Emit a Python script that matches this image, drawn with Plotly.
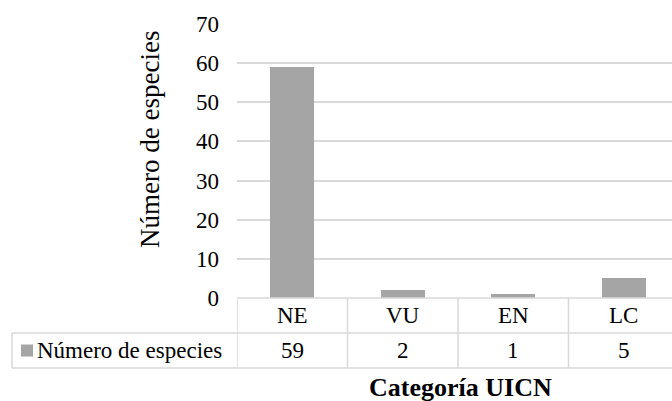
import plotly.graph_objects as go

# Data
categories = ["NE", "VU", "EN", "LC"]
species_counts = [59, 2, 1, 5]
series_name = "Número de especies"
x_title = "Categoría UICN"
y_title = "Número de especies"

FONT = "Times New Roman, Liberation Serif, Tinos, DejaVu Serif, serif"
BAR_COLOR = "#a5a5a5"
GRID_COLOR = "#d9d9d9"

W, H = 672, 401
M_L, M_R, M_T, M_B = 237, 0, 24, 103
plot_h = H - M_T - M_B
plot_w = W - M_L - M_R

# data-table geometry (px below the x axis, converted to paper units)
row_h = 35
row1_mid = -(row_h / 2) / plot_h
row_split = -row_h / plot_h
row2_mid = -(row_h * 1.5) / plot_h
table_bottom = -(row_h * 2) / plot_h
legend_left = (12 - M_L) / plot_w

fig = go.Figure()
fig.add_trace(go.Bar(
    x=list(range(len(categories))),
    y=species_counts,
    name=series_name,
    marker=dict(color=BAR_COLOR, line=dict(width=0)),
    width=0.4,
    showlegend=False,
))

shapes = []
# horizontal table rules
shapes.append(dict(type="line", xref="x", yref="paper", x0=-0.5, x1=len(categories) - 0.5,
                   y0=0, y1=0, line=dict(color=GRID_COLOR, width=1.5)))
for yy in (row_split, table_bottom):
    shapes.append(dict(type="line", xref="paper", yref="paper", x0=legend_left, x1=1,
                       y0=yy, y1=yy, line=dict(color=GRID_COLOR, width=1.5)))
# vertical cell borders at category boundaries
for i in range(len(categories) + 1):
    shapes.append(dict(type="line", xref="x", yref="paper", x0=i - 0.5, x1=i - 0.5,
                       y0=0, y1=table_bottom, line=dict(color=GRID_COLOR, width=1.5)))
# legend cell left border
shapes.append(dict(type="line", xref="paper", yref="paper", x0=legend_left, x1=legend_left,
                   y0=row_split, y1=table_bottom, line=dict(color=GRID_COLOR, width=1.5)))
# legend key
key_x0 = (21 - M_L) / plot_w
key_x1 = (33 - M_L) / plot_w
key_y0 = row2_mid - 6 / plot_h
key_y1 = row2_mid + 6 / plot_h
shapes.append(dict(type="rect", xref="paper", yref="paper", x0=key_x0, x1=key_x1,
                   y0=key_y0, y1=key_y1, fillcolor=BAR_COLOR, line=dict(width=0)))

cell_font = dict(family=FONT, size=23, color="#000")
annotations = []
for i, (cat, val) in enumerate(zip(categories, species_counts)):
    annotations.append(dict(x=i, y=row1_mid, xref="x", yref="paper", text=cat,
                            showarrow=False, font=cell_font,
                            xanchor="center", yanchor="middle"))
    annotations.append(dict(x=i, y=row2_mid, xref="x", yref="paper", text=str(val),
                            showarrow=False, font=cell_font,
                            xanchor="center", yanchor="middle"))
annotations.append(dict(x=(35 - M_L) / plot_w, y=row2_mid, xref="paper", yref="paper",
                        text=series_name, showarrow=False, font=cell_font,
                        xanchor="left", yanchor="middle"))
annotations.append(dict(x=(460 - M_L) / plot_w, y=-(387 - (H - M_B)) / plot_h,
                        xref="paper", yref="paper", text="<b>" + x_title + "</b>",
                        showarrow=False, font=dict(family=FONT, size=26, color="#000"),
                        xanchor="center", yanchor="middle"))
annotations.append(dict(x=(150 - M_L) / plot_w, y=((H - M_B) - 140) / plot_h,
                        xref="paper", yref="paper", text=y_title, textangle=-90,
                        showarrow=False, font=dict(family=FONT, size=27, color="#000"),
                        xanchor="center", yanchor="middle"))

fig.update_layout(
    width=W, height=H,
    margin=dict(l=M_L, r=M_R, t=M_T, b=M_B, pad=0),
    paper_bgcolor="white", plot_bgcolor="white",
    font=dict(family=FONT, color="#000"),
    shapes=shapes,
    annotations=annotations,
    xaxis=dict(range=[-0.5, 3.437], showticklabels=False, showgrid=False,
               zeroline=False, showline=False, ticks="", fixedrange=True),
    yaxis=dict(range=[0, 70], dtick=10, tick0=0, showgrid=True, gridcolor=GRID_COLOR,
               gridwidth=1.5, zeroline=False, showline=False, ticks="",
               tickfont=dict(family=FONT, size=23, color="#000"),
               ticklabelstandoff=17),
    bargap=0,
)

fig.write_html("out.html")
